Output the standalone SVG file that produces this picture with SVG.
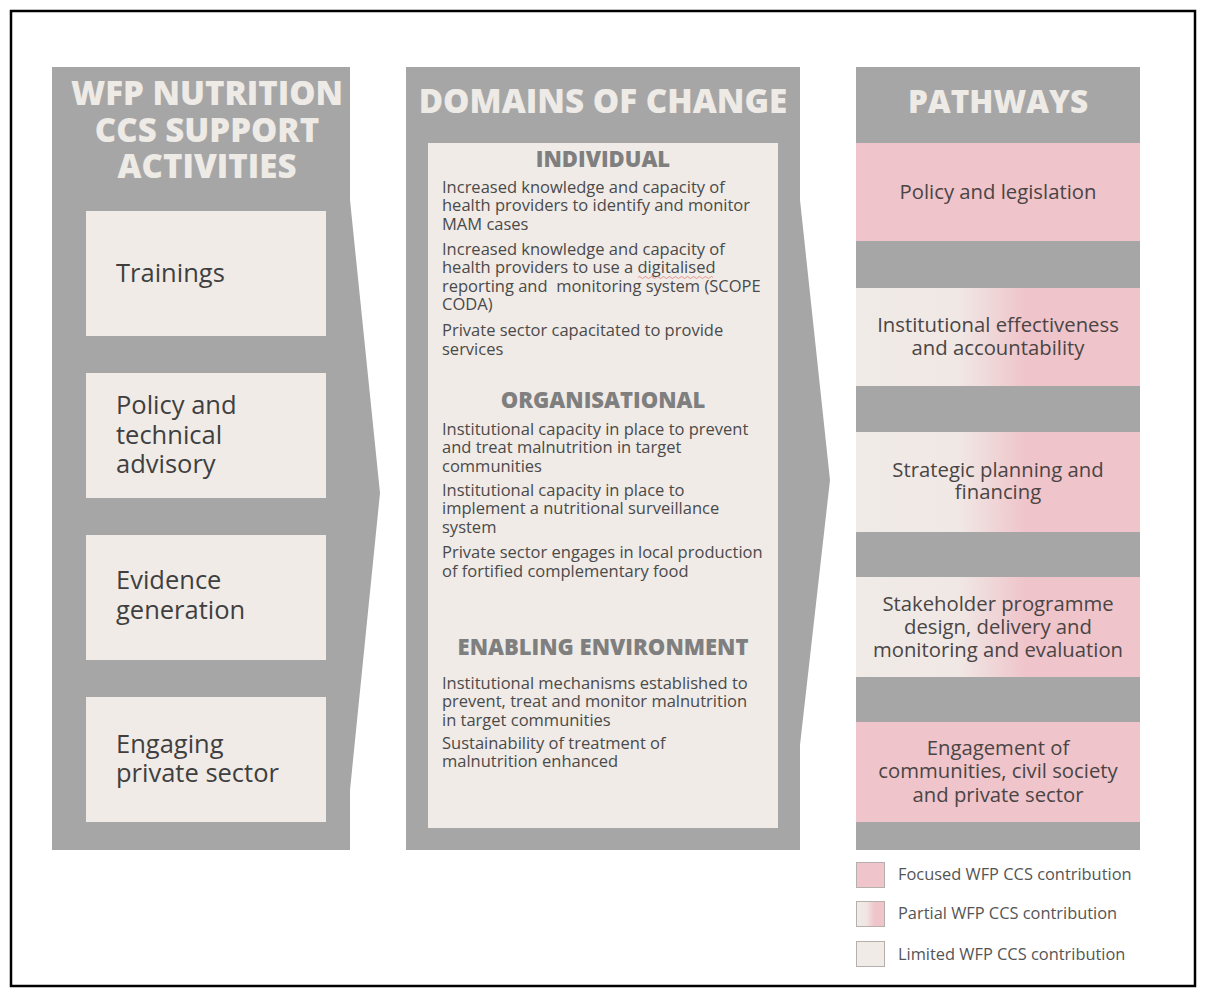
<svg xmlns="http://www.w3.org/2000/svg" width="1206" height="997" viewBox="0 0 1206 997">
<defs>
<linearGradient id="partial" x1="0" y1="0" x2="1" y2="0">
<stop offset="0" stop-color="#f0ebe7"/>
<stop offset="0.36" stop-color="#f0e8e5"/>
<stop offset="0.6" stop-color="#efc4ca"/>
<stop offset="1" stop-color="#efc4ca"/>
</linearGradient>
<linearGradient id="partialLeg" x1="0" y1="0" x2="1" y2="0">
<stop offset="0" stop-color="#f0ebe7"/>
<stop offset="0.35" stop-color="#f0e6e4"/>
<stop offset="0.65" stop-color="#efc4ca"/>
<stop offset="1" stop-color="#efc4ca"/>
</linearGradient>
<style>
.panel{fill:#a6a6a6}
.box{fill:#f0ebe7}
.pink{fill:#efc4ca}
.grad{fill:url(#partial)}
.hdr{font-family:"Open Sans","Liberation Sans",sans-serif;font-weight:800;fill:#eeeae6;text-anchor:middle}
.act{font-family:"Open Sans","Liberation Sans",sans-serif;font-size:25.5px;fill:#3f3f3f}
.sec{font-family:"Open Sans","Liberation Sans",sans-serif;font-weight:800;font-size:22px;fill:#7f7f7f;text-anchor:middle}
.body{font-family:"Open Sans","Liberation Sans",sans-serif;font-size:16.5px;fill:#4a4a4a}
.pw{font-family:"Open Sans","Liberation Sans",sans-serif;font-size:20.3px;fill:#4a4545;text-anchor:middle}
.leg{font-family:"Open Sans","Liberation Sans",sans-serif;font-size:16.4px;fill:#555555}
.legbox{stroke:#b5b0ad;stroke-width:1}
</style>
</defs>
<rect x="0" y="0" width="1206" height="997" fill="#ffffff"/>
<rect x="11" y="11" width="1184" height="975" fill="none" stroke="#000000" stroke-width="2.5"/>

<g id="activities">
<polygon class="panel" points="52,67 350,67 350,200 380,493 350,790 350,850 52,850"/>
<text class="hdr" font-size="33" x="207" y="105">WFP NUTRITION</text>
<text class="hdr" font-size="33" x="207" y="142">CCS SUPPORT</text>
<text class="hdr" font-size="33" x="207" y="178">ACTIVITIES</text>
<g id="act-trainings">
<rect class="box" x="86" y="211" width="240" height="125"/>
<text class="act" x="116" y="282">Trainings</text>
</g>
<g id="act-policy">
<rect class="box" x="86" y="373" width="240" height="125"/>
<text class="act" x="116" y="414">Policy and</text>
<text class="act" x="116" y="444">technical</text>
<text class="act" x="116" y="473">advisory</text>
</g>
<g id="act-evidence">
<rect class="box" x="86" y="535" width="240" height="125"/>
<text class="act" x="116" y="589">Evidence</text>
<text class="act" x="116" y="619">generation</text>
</g>
<g id="act-private">
<rect class="box" x="86" y="697" width="240" height="125"/>
<text class="act" x="116" y="753">Engaging</text>
<text class="act" x="116" y="782">private sector</text>
</g>
</g>

<g id="domains">
<polygon class="panel" points="406,67 800,67 800,200 830,480 800,745 800,850 406,850"/>
<text class="hdr" font-size="33.2" x="603" y="113">DOMAINS OF CHANGE</text>
<rect class="box" x="428" y="143" width="350" height="685"/>
<g id="dom-individual">
<text class="sec" x="603" y="167">INDIVIDUAL</text>
<text class="body" x="442" y="193">Increased knowledge and capacity of</text>
<text class="body" x="442" y="211">health providers to identify and monitor</text>
<text class="body" x="442" y="230">MAM cases</text>
<text class="body" x="442" y="255">Increased knowledge and capacity of</text>
<text class="body" x="442" y="273">health providers to use a digitalised</text>
<path d="M638,277.5 q1.5,-2 3,0 t3,0 t3,0 t3,0 t3,0 t3,0 t3,0 t3,0 t3,0 t3,0 t3,0 t3,0 t3,0 t3,0 t3,0 t3,0 t3,0 t3,0 t3,0 t3,0 t3,0 t3,0 t3,0 t3,0 t3,0" fill="none" stroke="#d9534f" stroke-width="0.8" opacity="0.7"/>
<text class="body" x="442" y="292" xml:space="preserve">reporting and  monitoring system (SCOPE</text>
<text class="body" x="442" y="310">CODA)</text>
<text class="body" x="442" y="336">Private sector capacitated to provide</text>
<text class="body" x="442" y="355">services</text>
</g>
<g id="dom-organisational">
<text class="sec" x="603" y="408">ORGANISATIONAL</text>
<text class="body" x="442" y="435">Institutional capacity in place to prevent</text>
<text class="body" x="442" y="453">and treat malnutrition in target</text>
<text class="body" x="442" y="472">communities</text>
<text class="body" x="442" y="496">Institutional capacity in place to</text>
<text class="body" x="442" y="514">implement a nutritional surveillance</text>
<text class="body" x="442" y="533">system</text>
<text class="body" x="442" y="558">Private sector engages in local production</text>
<text class="body" x="442" y="577">of fortified complementary food</text>
</g>
<g id="dom-enabling">
<text class="sec" x="603" y="655">ENABLING ENVIRONMENT</text>
<text class="body" x="442" y="689">Institutional mechanisms established to</text>
<text class="body" x="442" y="707">prevent, treat and monitor malnutrition</text>
<text class="body" x="442" y="726">in target communities</text>
<text class="body" x="442" y="749">Sustainability of treatment of</text>
<text class="body" x="442" y="767">malnutrition enhanced</text>
</g>
</g>

<g id="pathways">
<rect class="panel" x="856" y="67" width="284" height="783"/>
<text class="hdr" font-size="31.5" x="998" y="113">PATHWAYS</text>
<g id="pw-policy">
<rect class="pink" x="856" y="143" width="284" height="98"/>
<text class="pw" x="998" y="199">Policy and legislation</text>
</g>
<g id="pw-institutional">
<rect class="grad" x="856" y="288" width="284" height="98"/>
<text class="pw" x="998" y="332">Institutional effectiveness</text>
<text class="pw" x="998" y="355">and accountability</text>
</g>
<g id="pw-strategic">
<rect class="grad" x="856" y="432" width="284" height="100"/>
<text class="pw" x="998" y="477">Strategic planning and</text>
<text class="pw" x="998" y="499">financing</text>
</g>
<g id="pw-stakeholder">
<rect class="grad" x="856" y="577" width="284" height="100"/>
<text class="pw" x="998" y="611">Stakeholder programme</text>
<text class="pw" x="998" y="634">design, delivery and</text>
<text class="pw" x="998" y="657">monitoring and evaluation</text>
</g>
<g id="pw-engagement">
<rect class="pink" x="856" y="722" width="284" height="100"/>
<text class="pw" x="998" y="755">Engagement of</text>
<text class="pw" x="998" y="778">communities, civil society</text>
<text class="pw" x="998" y="802">and private sector</text>
</g>
</g>

<g id="legend">
<rect class="legbox" x="856.5" y="862.5" width="28" height="25" fill="#efc4ca"/>
<text class="leg" x="898" y="880">Focused WFP CCS contribution</text>
<rect class="legbox" x="856.5" y="901.5" width="28" height="25" fill="url(#partialLeg)"/>
<text class="leg" x="898" y="919">Partial WFP CCS contribution</text>
<rect class="legbox" x="856.5" y="941.5" width="28" height="25" fill="#f0ebe7"/>
<text class="leg" x="898" y="960">Limited WFP CCS contribution</text>
</g>

<g id="connectors"></g>
</svg>
